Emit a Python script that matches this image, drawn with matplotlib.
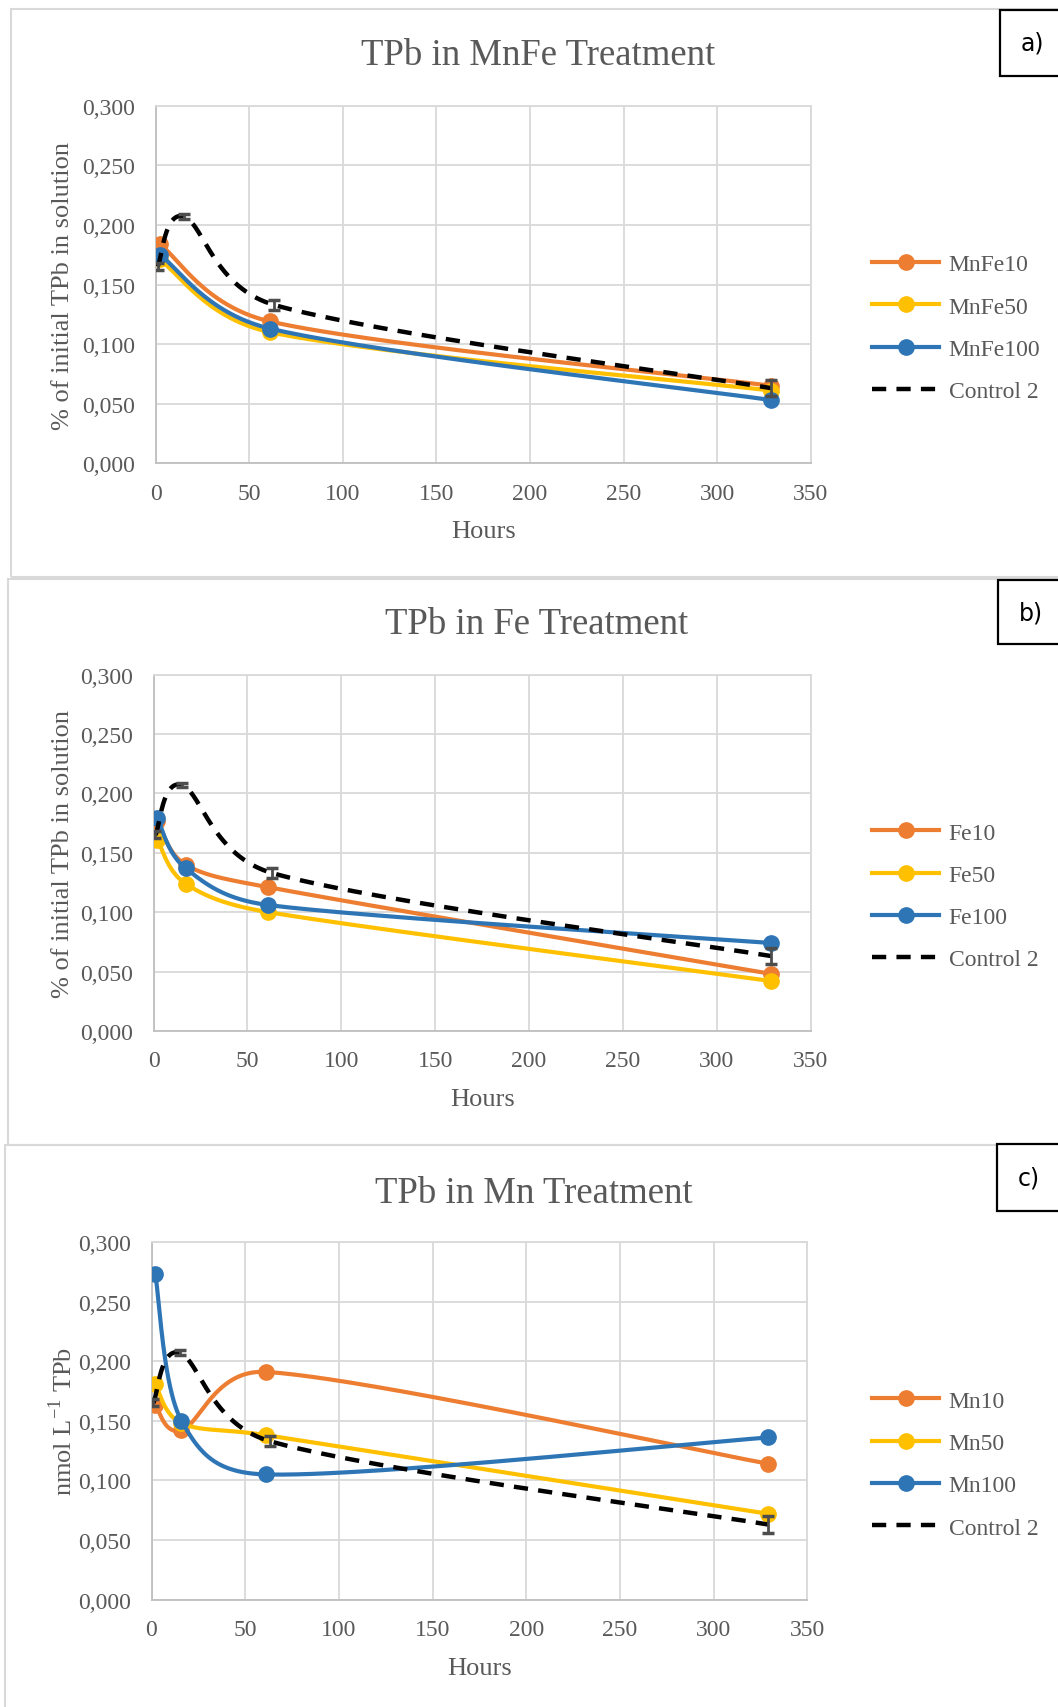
import numpy as np
import matplotlib.pyplot as plt
from matplotlib.lines import Line2D
from matplotlib.patches import Rectangle
from matplotlib.ticker import FuncFormatter, MultipleLocator

plt.rcParams['font.family'] = ['Liberation Serif', 'DejaVu Serif']
plt.rcParams['mathtext.fontset'] = 'custom'
plt.rcParams['mathtext.rm'] = 'Liberation Serif'

W, H = 1058, 1708

# TPb measured in each treatment (sampling time in hours)
hours_mnfe = [2, 61, 329]
mnfe10 = [0.184, 0.119, 0.065]
mnfe50 = [0.171, 0.110, 0.061]
mnfe100 = [0.175, 0.113, 0.053]

hours_fe = [2, 17, 61, 329]
fe10 = [0.177, 0.140, 0.121, 0.048]
fe50 = [0.161, 0.124, 0.100, 0.042]
fe100 = [0.179, 0.137, 0.106, 0.074]

hours_mn = [2, 16, 61, 329]
mn10 = [0.163, 0.142, 0.191, 0.114]
mn50 = [0.181, 0.148, 0.138, 0.072]
mn100 = [0.273, 0.150, 0.105, 0.136]

hours_ctrl = [1, 15, 63, 329]
control2 = [0.165, 0.207, 0.133, 0.063]
control2_err = [0.003, 0.002, 0.004, 0.007]

ORANGE, YELLOW, BLUE = '#ED7D31', '#FFC000', '#2E75B6'
GREY_TXT = '#595959'
LW, MS = 3.0, 11
DASH = (3.2, 2.3)


def px(x, y):
    return x / W, 1 - y / H


def smooth(xs, ys, sx, sy, n=80):
    # Bezier smoothing of a polyline, done in screen-proportional units
    p = np.column_stack([np.asarray(xs, float) * sx, np.asarray(ys, float) * sy])
    m = len(p)
    t = np.linspace(0, 1, n)[1:, None]
    out = [p[:1]]
    for i in range(m - 1):
        a, b = p[i], p[i + 1]
        seg = np.linalg.norm(b - a)
        ta = p[i + 1] - p[max(i - 1, 0)]
        tb = p[min(i + 2, m - 1)] - p[i]
        fa = min(1 / 6, 0.5 * seg / np.linalg.norm(ta))
        fb = min(1 / 6, 0.5 * seg / np.linalg.norm(tb))
        c1 = a + ta * fa
        c2 = b - tb * fb
        out.append((1 - t) ** 3 * a + 3 * (1 - t) ** 2 * t * c1
                   + 3 * (1 - t) * t ** 2 * c2 + t ** 3 * b)
    out = np.vstack(out)
    return out[:, 0] / sx, out[:, 1] / sy


fig = plt.figure(figsize=(W / 100, H / 100), dpi=100)

# panel frames and corner labels
frames = [(11, 10, 578), (8, 580, 1146), (5, 1146, 1730)]
for x0, y0, y1 in frames:
    fig.patches.append(Rectangle(px(x0, y1), 1.2, (y1 - y0) / H, transform=fig.transFigure,
                                 fill=False, ec='#D9D9D9', lw=1.5))

tags = [('a)', 1000, 11, 77), ('b)', 998, 581, 645), ('c)', 997, 1145, 1212)]
for tag, x0, y0, y1 in tags:
    fig.patches.append(Rectangle(px(x0, y1), 0.2, (y1 - y0) / H, transform=fig.transFigure,
                                 fc='white', ec='black', lw=1.6, zorder=5))
    fig.text(*px(x0 + 21, (y0 + y1) / 2), tag, family='DejaVu Sans', fontsize=17,
             ha='left', va='center', zorder=6)

panels = [
    dict(box=(155.8, 106.8, 810.6, 464.2), title='TPb in MnFe Treatment', tpos=(538, 56),
         ylabel='% of initial TPb in solution', hours=hours_mnfe,
         series=[('MnFe10', mnfe10, ORANGE), ('MnFe50', mnfe50, YELLOW), ('MnFe100', mnfe100, BLUE)]),
    dict(box=(153.6, 675.6, 810.6, 1031.9), title='TPb in Fe Treatment', tpos=(537, 625),
         ylabel='% of initial TPb in solution', hours=hours_fe,
         series=[('Fe10', fe10, ORANGE), ('Fe50', fe50, YELLOW), ('Fe100', fe100, BLUE)]),
    dict(box=(151.5, 1243, 807.4, 1600.6), title='TPb in Mn Treatment', tpos=(534, 1194),
         ylabel=r'nmol L$^{\mathregular{-1}}$ TPb', hours=hours_mn,
         series=[('Mn10', mn10, ORANGE), ('Mn50', mn50, YELLOW), ('Mn100', mn100, BLUE)]),
]

for pan in panels:
    l, t, r, b = pan['box']
    ax = fig.add_axes([l / W, 1 - b / H, (r - l) / W, (b - t) / H])
    sx, sy = (r - l) / 350, (b - t) / 0.3
    handles = []
    for name, vals, col in pan['series']:
        cx, cy = smooth(pan['hours'], vals, sx, sy)
        ax.plot(cx, cy, color=col, lw=LW, solid_capstyle='round', zorder=3)
        ax.plot(pan['hours'], vals, 'o', color=col, ms=MS, zorder=3)
        handles.append(Line2D([], [], color=col, lw=LW, marker='o', ms=MS, label=name))
    cx, cy = smooth(hours_ctrl, control2, sx, sy)
    ax.plot(cx, cy, color='black', lw=3.2, dashes=DASH, zorder=4)
    ax.errorbar(hours_ctrl, control2, yerr=control2_err, fmt='none', ecolor='#4D4D4D',
                elinewidth=2, capsize=4.5, capthick=2.5, zorder=5)
    handles.append(Line2D([], [], color='black', lw=3.2, dashes=DASH, label='Control 2'))

    ax.set_xlim(0, 350)
    ax.set_ylim(0, 0.3)
    ax.xaxis.set_major_locator(MultipleLocator(50))
    ax.yaxis.set_major_locator(MultipleLocator(0.05))
    ax.yaxis.set_major_formatter(FuncFormatter(lambda v, _: f'{v:.3f}'.replace('.', ',')))
    ax.grid(True, color='#D9D9D9', lw=1.3)
    ax.set_axisbelow(True)
    for side in ax.spines:
        ax.spines[side].set_color('#D9D9D9')
        ax.spines[side].set_linewidth(1.3)
    ax.spines['left'].set_color('#BFBFBF')
    ax.spines['bottom'].set_color('#BFBFBF')
    ax.tick_params(length=0, labelsize=17, labelcolor=GREY_TXT)
    ax.tick_params(axis='y', pad=15)
    ax.tick_params(axis='x', pad=14)

    ax.set_xlabel('Hours', fontsize=19, color=GREY_TXT)
    ax.xaxis.set_label_coords(0.5, -57 / (b - t))
    ax.set_ylabel(pan['ylabel'], fontsize=19, color=GREY_TXT)
    ax.yaxis.set_label_coords(-(l - 63) / (r - l), 0.5)
    ax.yaxis.label.set_va('center')

    fig.text(*px(*pan['tpos']), pan['title'], fontsize=26.5, color=GREY_TXT,
             ha='center', va='center')

    ax.legend(handles=handles, loc='center left', frameon=False, fontsize=17,
              bbox_to_anchor=px(872, t + (b - t) * 0.622), bbox_transform=fig.transFigure,
              borderpad=0, borderaxespad=0, handlelength=2.85, handletextpad=0.4,
              labelspacing=0.88, labelcolor=GREY_TXT)

fig.savefig('out.png', dpi=100, facecolor='white')
